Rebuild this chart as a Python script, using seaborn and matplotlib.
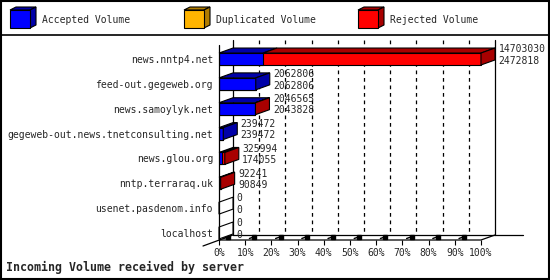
import numpy as np
import pandas as pd
import matplotlib
matplotlib.use("Agg")
import matplotlib.pyplot as plt
import seaborn as sns
from matplotlib.patches import Polygon, Rectangle
from matplotlib.lines import Line2D

# ---------------- data ----------------
servers = ["news.nntp4.net", "feed-out.gegeweb.org", "news.samoylyk.net",
           "gegeweb-out.news.tnetconsulting.net", "news.glou.org",
           "nntp.terraraq.uk", "usenet.pasdenom.info", "localhost"]
total_volume = [14703030, 2062806, 2046565, 239472, 325994, 92241, 0, 0]
accepted_volume = [2472818, 2062806, 2043828, 239472, 174055, 90849, 0, 0]
legend_labels = ["Accepted Volume", "Duplicated Volume", "Rejected Volume"]
x_ticks = [0, 10, 20, 30, 40, 50, 60, 70, 80, 90, 100]
x_tick_labels = [f"{t}%" for t in x_ticks]
title = "Incoming Volume received by server"

# ---------------- style ----------------
FACE = ["#0000ff", "#ffb400", "#ff0000"]
DARK = ["#0000a8", "#b07c00", "#a80000"]
sns.set_style("white")
plt.rcParams["font.family"] = ["DejaVu Sans Mono"]
FS = 7

fig = plt.figure(figsize=(5.5, 2.8), dpi=100)
W, H = 550, 280

# depth offsets (pixels)
DXP, DYP = 14, 5
x0p, x100p = 219, 481
ax_left, ax_right = x0p, x100p + DXP
ax_top, ax_bot = 40, 240
ax = fig.add_axes([ax_left / W, 1 - ax_bot / H, (ax_right - ax_left) / W, (ax_bot - ax_top) / H])

mx = max(total_volume)
df = pd.DataFrame({
    "server": servers,
    "total_pct": [t / mx * 100 for t in total_volume],
    "acc_pct": [a / mx * 100 for a in accepted_volume],
})

sns.barplot(data=df, x="total_pct", y="server", color=FACE[2], saturation=1,
            width=0.48, edgecolor="black", linewidth=0.8, ax=ax, zorder=4)
sns.barplot(data=df, x="acc_pct", y="server", color=FACE[0], saturation=1,
            width=0.48, edgecolor="black", linewidth=0.8, ax=ax, zorder=5)

px_per_pct = (x100p - x0p) / 100.0
row_px = (233 - 59) / 7.0
dx = DXP / px_per_pct
dy = -DYP / row_px
ylo = (ax_bot - 59) / row_px
yhi = (ax_top - 59) / row_px
ax.set_xlim(0, 100 + dx)
ax.set_ylim(ylo, yhi)

n = len(servers)
red_patches = ax.patches[:n]
blue_patches = ax.patches[n:2 * n]
floor_back = ylo + dy

# back wall dashed gridlines
for t in x_ticks[1:-1]:
    ax.plot([t + dx, t + dx], [yhi, floor_back], color="black", lw=0.9,
            ls=(0, (3, 3)), zorder=1, clip_on=False)
for t in (0, 100):
    ax.plot([t + dx, t + dx], [yhi, floor_back], color="black", lw=0.9, zorder=1, clip_on=False)
# left front axis line
ax.plot([0, 0], [yhi - dy, ylo], color="black", lw=0.9, zorder=6, clip_on=False)
# floor
ax.plot([dx, 100 + dx + 28 / px_per_pct], [floor_back, floor_back], color="black", lw=0.9, zorder=2, clip_on=False)
ax.plot([0, 100, 100 + dx], [ylo, ylo, floor_back], color="black", lw=0.9, zorder=2, clip_on=False)
ax.plot([dx, -16 / px_per_pct], [floor_back, ylo + 6 / row_px], color="black", lw=0.9, zorder=2, clip_on=False)
for t in x_ticks[:-1]:
    ax.plot([t + 0.3 * dx, t + 0.55 * dx], [ylo + 0.3 * dy, ylo + 0.55 * dy], color="black",
            lw=1.0, zorder=2, clip_on=False)
    ax.plot([t + 0.65 * dx], [ylo + 0.6 * dy], marker="s", ms=2.2, color="black", zorder=2, clip_on=False)

# 3D faces
for i in range(n):
    rp, bp = red_patches[i], blue_patches[i]
    top = rp.get_y()
    bot = rp.get_y() + rp.get_height()
    xa = bp.get_width()
    xt = rp.get_width()
    segs = [(0, xa, DARK[0]), (xa, xt, DARK[2])]
    for s0, s1, c in segs:
        if s1 - s0 > 0:
            ax.add_patch(Polygon([(s0, top), (s1, top), (s1 + dx, top + dy), (s0 + dx, top + dy)],
                                 closed=True, facecolor=c, edgecolor="black", lw=0.8, zorder=5,
                                 clip_on=False))
    if xt <= 0:
        side_c = "white"
    elif xt - xa > 0:
        side_c = DARK[2]
    else:
        side_c = DARK[0]
    ax.add_patch(Polygon([(xt, top), (xt + dx, top + dy), (xt + dx, bot + dy), (xt, bot)],
                         closed=True, facecolor=side_c, edgecolor="black", lw=0.8, zorder=5,
                         clip_on=False))
    ctr = (top + bot) / 2
    ax.text(xt + dx + 1.3, ctr - 0.39, f"{total_volume[i]}", fontsize=FS, va="center",
            ha="left", zorder=7, clip_on=False)
    ax.text(xt + dx + 1.3, ctr + 0.07, f"{accepted_volume[i]}", fontsize=FS, va="center",
            ha="left", zorder=7, clip_on=False)

ax.set_xticks(x_ticks)
ax.set_xticklabels(x_tick_labels)
ax.tick_params(axis="x", length=3.6, width=0.8, pad=2, labelsize=FS, direction="out",
               color="black", bottom=True)
ax.tick_params(axis="y", length=0, pad=4.3, labelsize=FS)
ax.set_xlabel("")
ax.set_ylabel("")
for sp in ax.spines.values():
    sp.set_visible(False)
ax.set_facecolor("none")

fig.text(6 / W, 1 - 267 / H, title, fontsize=8.4, fontweight="bold", ha="left", va="center")

# legend
lax = fig.add_axes([0, 1 - 35 / H, 1, 35 / H])
lax.set_xlim(0, W)
lax.set_ylim(35, 0)
lax.axis("off")
leg_x = [10, 184, 358]
for lx, lab, fc, dc in zip(leg_x, legend_labels, FACE, DARK):
    lax.add_patch(Polygon([(lx, 10), (lx + 20, 10), (lx + 26, 7), (lx + 6, 7)], closed=True,
                          facecolor=dc, edgecolor="black", lw=0.8))
    lax.add_patch(Polygon([(lx + 20, 10), (lx + 26, 7), (lx + 26, 25), (lx + 20, 28)], closed=True,
                          facecolor=dc, edgecolor="black", lw=0.8))
    lax.add_patch(Rectangle((lx, 10), 20, 18, facecolor=fc, edgecolor="black", lw=0.8))
    lax.text(lx + 32, 20, lab, fontsize=FS, va="center", ha="left")

fig.add_artist(Line2D([0, 1], [1 - 35 / H] * 2, transform=fig.transFigure, color="black", lw=1.2))
fig.add_artist(Rectangle((0.001, 0.002), 0.997, 0.996, transform=fig.transFigure, fill=False,
                         edgecolor="black", lw=1.5))

fig.savefig("out.png", dpi=100, facecolor="white")
